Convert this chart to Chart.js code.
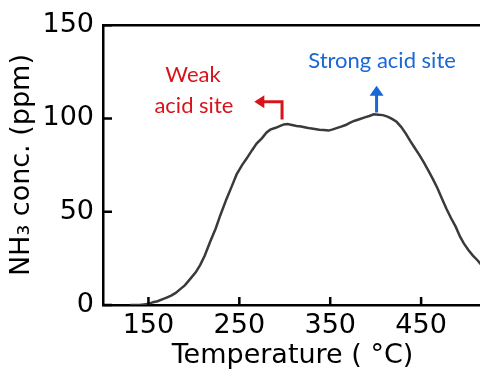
<!DOCTYPE html>
<html>
<head>
<meta charset="utf-8">
<script src="https://cdn.jsdelivr.net/npm/chart.js@4.4.1/dist/chart.umd.min.js"></script>
<style>
  html, body { margin: 0; padding: 0; background: #fff; overflow: hidden; }
</style>
</head>
<body>
<canvas id="tpd-chart" width="490" height="369"></canvas>
<script>
// NH3-TPD profile
const temps = [130, 140, 150, 155, 160, 165, 170, 175, 180, 185, 190, 196, 202, 207, 212, 218, 224, 229, 236, 242,
    247, 253, 258, 264, 269, 275, 280, 284, 290, 295, 299, 303, 308, 313, 318, 323, 328, 333, 338, 343,
    348, 352, 357, 362, 367, 372, 377, 382, 388, 393, 398, 403, 408, 413, 418, 423, 428, 433, 438, 442,
    448, 453, 458, 463, 468, 473, 478, 483, 488, 493, 497, 502, 507, 512, 517];
const nh3 = [0, 0, 0.5, 1.5, 2, 3, 4, 5, 6.5, 8.5, 10.5, 14, 17.5, 21.5, 26.5, 34, 41, 48, 57, 64,
    70, 75, 78.5, 83, 86.5, 89.5, 92.5, 94, 95, 96, 96.8, 97, 96.5, 96, 95.7, 95.2, 94.7, 94.4, 94, 93.8,
    93.5, 94, 94.8, 95.6, 96.5, 97.8, 98.8, 99.6, 100.6, 101.3, 102.2, 102, 101.8, 101, 99.8, 98.2, 95.5, 92, 88, 85,
    80.5, 76.5, 72, 67.5, 62.6, 57, 51.5, 46.5, 42, 36.5, 33, 29.5, 26.5, 24, 21];

const xTicks = [150, 250, 350, 450];
const yTicks = [0, 50, 100, 150];

// annotation anchors in data units
const weakLabel = [['Weak', 199, 123.3], ['acid site', 200, 106.9]];
const strongLabel = ['Strong acid site', 407, 130.7];
const weakArrow = [[297, 99.5], [297, 109], [266.5, 109]];
const strongArrow = [[401, 103.2], [401, 117.5]];

const ctx = document.getElementById('tpd-chart').getContext('2d');

const frame = {
    id: 'frame',
    afterDraw(chart) {
        const c = chart.ctx;
        const a = chart.chartArea;
        const x = chart.scales.x;
        const y = chart.scales.y;
        c.save();
        c.strokeStyle = '#000';
        c.lineWidth = 2.5;
        // top spine
        c.beginPath();
        c.moveTo(a.left, a.top);
        c.lineTo(a.right + 5, a.top);
        c.stroke();
        // inward ticks
        c.beginPath();
        xTicks.forEach(v => {
            const px = x.getPixelForValue(v);
            c.moveTo(px, a.bottom);
            c.lineTo(px, a.bottom - 8);
        });
        yTicks.forEach(v => {
            const py = y.getPixelForValue(v);
            c.moveTo(a.left, py);
            c.lineTo(a.left + 9, py);
        });
        c.stroke();

        // annotations
        c.font = '22px Lato';
        c.textAlign = 'center';
        c.textBaseline = 'middle';
        c.fillStyle = '#d7141b';
        weakLabel.forEach(t => c.fillText(t[0], x.getPixelForValue(t[1]), y.getPixelForValue(t[2])));
        c.fillStyle = '#1a67d6';
        c.fillText(strongLabel[0], x.getPixelForValue(strongLabel[1]), y.getPixelForValue(strongLabel[2]));

        // red bent arrow
        const r = weakArrow.map(p => [x.getPixelForValue(p[0]), y.getPixelForValue(p[1])]);
        c.strokeStyle = '#d7141b';
        c.fillStyle = '#d7141b';
        c.lineWidth = 3;
        c.beginPath();
        c.moveTo(r[0][0], r[0][1]);
        c.lineTo(r[1][0], r[1][1]);
        c.lineTo(r[2][0] + 9, r[2][1]);
        c.stroke();
        c.beginPath();
        c.moveTo(r[2][0], r[2][1]);
        c.lineTo(r[2][0] + 10, r[2][1] - 6.5);
        c.lineTo(r[2][0] + 10, r[2][1] + 6.5);
        c.closePath();
        c.fill();

        // blue up arrow
        const b = strongArrow.map(p => [x.getPixelForValue(p[0]), y.getPixelForValue(p[1])]);
        c.strokeStyle = '#1a67d6';
        c.fillStyle = '#1a67d6';
        c.beginPath();
        c.moveTo(b[0][0], b[0][1]);
        c.lineTo(b[1][0], b[1][1] + 9);
        c.stroke();
        c.beginPath();
        c.moveTo(b[1][0], b[1][1]);
        c.lineTo(b[1][0] - 7, b[1][1] + 10);
        c.lineTo(b[1][0] + 7, b[1][1] + 10);
        c.closePath();
        c.fill();
        c.restore();
    }
};

const tpdChart = new Chart(ctx, {
    type: 'line',
    data: {
        datasets: [{
            data: temps.map((t, i) => ({ x: t, y: nh3[i] })),
            borderColor: '#3a3a3a',
            borderWidth: 2.5,
            pointRadius: 0,
            tension: 0
        }]
    },
    options: {
        responsive: false,
        animation: false,
        events: [],
        layout: { padding: { top: 22, left: 0, right: 8, bottom: 0 } },
        plugins: {
            legend: { display: false },
            tooltip: { enabled: false }
        },
        scales: {
            x: {
                type: 'linear',
                min: 100,
                max: 517,
                afterBuildTicks: s => { s.ticks = xTicks.map(v => ({ value: v })); },
                afterFit: s => { s.height = 64; },
                grid: { drawOnChartArea: false, drawTicks: false },
                border: { display: true, color: '#000', width: 2.5 },
                ticks: {
                    color: '#000',
                    padding: 5,
                    maxRotation: 0,
                    font: { family: 'DejaVu Sans', size: 27 }
                },
                title: {
                    display: true,
                    text: 'Temperature ( °C)',
                    color: '#000',
                    padding: { top: 0, bottom: -3 },
                    font: { family: 'DejaVu Sans', size: 27 }
                }
            },
            y: {
                min: 0,
                max: 150,
                afterBuildTicks: s => { s.ticks = yTicks.map(v => ({ value: v })); },
                afterFit: s => { s.width = 103; },
                grid: { drawOnChartArea: false, drawTicks: false },
                border: { display: true, color: '#000', width: 2.5 },
                ticks: {
                    color: '#000',
                    padding: 9,
                    font: { family: 'DejaVu Sans', size: 27 }
                },
                title: {
                    display: true,
                    text: 'NH₃ conc. (ppm)',
                    color: '#000',
                    padding: { top: 6, bottom: 0 },
                    font: { family: 'DejaVu Sans', size: 27 }
                }
            }
        }
    },
    plugins: [frame]
});
</script>
</body>
</html>
